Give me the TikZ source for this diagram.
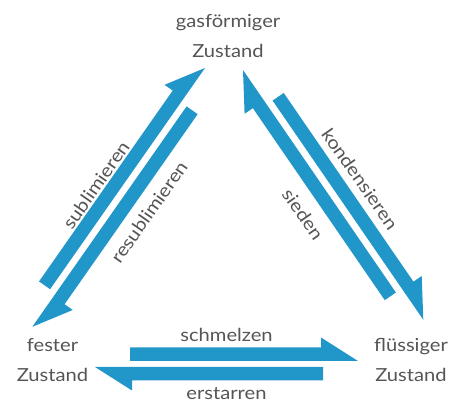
\documentclass[tikz,border=0pt]{standalone}
\usepackage{fontspec}
\setmainfont{Lato}[FakeStretch=1.12]
\usetikzlibrary{calc}
\definecolor{arrowblue}{RGB}{33,150,200}
\definecolor{labelgray}{RGB}{85,85,85}
% half arrow: #1 tail (inner edge), #2 tip (inner edge); head and shaft on the left of travel
\newcommand\halfarrow[2]{%
  \fill[arrowblue] (#1) -- (#2)
    -- ($(#2)!37pt!(#1)!23.5pt!90:(#2)$)
    -- ($(#2)!37pt!(#1)!13.5pt!90:(#2)$)
    -- ($(#1)!13.5pt!90:(#2)$) -- cycle;}
\tikzset{
  statelabel/.style={align=center, text=labelgray, font=\fontsize{18}{30}\selectfont, inner sep=0pt},
  arrowlabel/.style={text=labelgray, font=\fontsize{18}{20}\selectfont, inner sep=0pt}
}
\begin{document}
\begin{tikzpicture}[x=1pt,y=-1pt]
\useasboundingbox (0,0) rectangle (461,403);
\fill[white] (0,0) rectangle (461,403);
% state labels
\node[statelabel, anchor=base] (gas) at (228,58) {gasförmiger\\Zustand};
\node[statelabel, anchor=base] (fest) at (52.5,382) {fester\\Zustand};
\node[statelabel, anchor=base] (fluess) at (411,382) {flüssiger\\Zustand};
% arrow end points
\coordinate (subT) at (50.1,289.2);
\coordinate (subH) at (205,68);
\coordinate (resT) at (186.6,106.4);
\coordinate (resH) at (32.3,326.8);
\coordinate (sieT) at (395.9,292.5);
\coordinate (sieH) at (243,70);
\coordinate (konT) at (272.6,100.6);
\coordinate (konH) at (423.3,319.8);
\coordinate (schT) at (130,361);
\coordinate (schH) at (358,361);
\coordinate (ersT) at (323,367);
\coordinate (ersH) at (95,367);
% arrows
\halfarrow{subT}{subH}
\halfarrow{resT}{resH}
\halfarrow{sieT}{sieH}
\halfarrow{konT}{konH}
\halfarrow{schT}{schH}
\halfarrow{ersT}{ersH}
% arrow labels
\node[arrowlabel, rotate=55] (lsub) at (96,185) {sublimieren};
\node[arrowlabel, rotate=55] (lres) at (149,212) {resublimieren};
\node[arrowlabel, rotate=-55] (lkon) at (360,179) {kondensieren};
\node[arrowlabel, rotate=-55] (lsie) at (303,214) {sieden};
\node[arrowlabel, anchor=base] (lsch) at (226.5,342) {schmelzen};
\node[arrowlabel, anchor=base] (lers) at (226.5,400) {erstarren};
\end{tikzpicture}
\end{document}
